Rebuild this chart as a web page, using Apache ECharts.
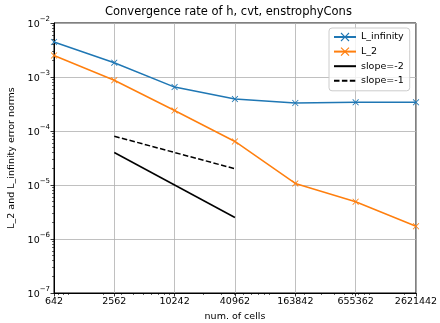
<!DOCTYPE html>
<html>
<head>
<meta charset="utf-8">
<script src="https://cdn.jsdelivr.net/npm/echarts@6/dist/echarts.min.js"></script>
<style>html,body{margin:0;padding:0;background:#fff}#c{width:440px;height:323px}</style>
</head>
<body>
<div id="c"></div>
<script>
// ---- data ----
var cells = [642, 2562, 10242, 40962, 163842, 655362, 2621442];
var lInfinity = [4.45e-3, 1.84e-3, 6.5e-4, 3.9e-4, 3.3e-4, 3.4e-4, 3.4e-4];
var l2 = [2.5e-3, 8.7e-4, 2.4e-4, 6.4e-5, 1.07e-5, 4.9e-6, 1.72e-6];
var slopeCells = [2562, 40962];
var slopeMinus2 = [4.0e-5, 2.5e-6];
var slopeMinus1 = [8.0e-5, 2.0e-5];
var yMajorTicks = [1e-7, 1e-6, 1e-5, 1e-4, 1e-3, 1e-2];

var xMin = cells[0], xMax = cells[cells.length - 1];
var yMin = yMajorTicks[0], yMax = yMajorTicks[yMajorTicks.length - 1];

function minorTicks(lo, hi) {
  var out = [];
  for (var e = Math.floor(Math.log10(lo)); e <= Math.ceil(Math.log10(hi)); e++) {
    for (var m = 2; m <= 9; m++) {
      var v = m * Math.pow(10, e);
      if (v >= lo && v <= hi) out.push(v);
    }
  }
  return out;
}
function pairs(xs, ys) { return xs.map(function (x, i) { return [x, ys[i]]; }); }

var X_PATH = 'path://M0,0.9L0.9,0L5,4.1L9.1,0L10,0.9L5.9,5L10,9.1L9.1,10L5,5.9L0.9,10L0,9.1L4.1,5Z';
var FONT = 'DejaVu Sans';
var HIDDEN_SYMBOL = {color: 'rgba(0,0,0,0)', borderWidth: 0, opacity: 0};

var chart = echarts.init(document.getElementById('c'), null, {renderer: 'canvas'});
chart.setOption({
  animation: false,
  backgroundColor: '#fff',
  textStyle: {fontFamily: FONT},
  title: {
    text: 'Convergence rate of h, cvt, enstrophyCons',
    left: 105, top: 6, padding: 0,
    textStyle: {fontFamily: FONT, fontSize: 11.5, fontWeight: 'normal', color: '#000'}
  },
  grid: {left: 54, right: 24, top: 23, bottom: 30, show: true, borderColor: '#000', borderWidth: 1, outerBoundsMode: 'none'},
  legend: {
    orient: 'vertical', left: 329, top: 28,
    padding: [4, 6, 5, 4], itemGap: 4.6, itemWidth: 22, itemHeight: 11,
    backgroundColor: 'rgba(255,255,255,0.8)', borderColor: '#cccccc', borderWidth: 1, borderRadius: 3,
    textStyle: {fontFamily: FONT, fontSize: 9.5, color: '#000'},
    data: [
      {name: 'L_infinity'},
      {name: 'L_2'},
      {name: 'slope=-2', itemStyle: HIDDEN_SYMBOL},
      {name: 'slope=-1', itemStyle: HIDDEN_SYMBOL}
    ]
  },
  xAxis: [{
    type: 'log', logBase: 10, min: xMin, max: xMax,
    name: 'num. of cells', nameLocation: 'middle', nameGap: 17,
    nameTextStyle: {fontFamily: FONT, fontSize: 9.5, color: '#000'},
    axisLine: {show: true, lineStyle: {color: '#000', width: 1}},
    axisTick: {show: true, length: 3.5, lineStyle: {color: '#000', width: 0.8}, customValues: cells},
    axisLabel: {show: true, customValues: cells, margin: 4, color: '#000', fontFamily: FONT, fontSize: 9.5,
      formatter: function (v) { return String(Math.round(v)); }},
    splitLine: {show: true, lineStyle: {color: '#b0b0b0', width: 0.8}}
  }, {
    type: 'log', logBase: 10, min: xMin, max: xMax, position: 'bottom',
    axisLine: {show: false},
    axisTick: {show: true, length: 2, lineStyle: {color: '#000', width: 0.6}, customValues: minorTicks(xMin, xMax)},
    axisLabel: {show: false},
    splitLine: {show: false}
  }],
  yAxis: [{
    type: 'log', logBase: 10, min: yMin, max: yMax,
    name: 'L_2 and L_infinity error norms', nameLocation: 'middle', nameGap: 36,
    nameTextStyle: {fontFamily: FONT, fontSize: 9.5, color: '#000'},
    axisLine: {show: true, lineStyle: {color: '#000', width: 1}},
    axisTick: {show: true, length: 3.5, lineStyle: {color: '#000', width: 0.8}, customValues: yMajorTicks},
    axisLabel: {show: true, customValues: yMajorTicks, margin: 4, color: '#000',
      formatter: function (v) {
        var e = Math.round(Math.log10(v));
        return '{b|10}{s|' + String(e).replace('-', '\u2212') + '}';
      },
      rich: {
        b: {fontFamily: FONT, fontSize: 9.5, color: '#000', lineHeight: 14, verticalAlign: 'bottom'},
        s: {fontFamily: FONT, fontSize: 7, color: '#000', lineHeight: 14, verticalAlign: 'top', padding: [0, 0, 5, 0]}
      }},
    splitLine: {show: true, lineStyle: {color: '#b0b0b0', width: 0.8}}
  }, {
    type: 'log', logBase: 10, min: yMin, max: yMax, position: 'left',
    axisLine: {show: false},
    axisTick: {show: true, length: 2, lineStyle: {color: '#000', width: 0.6}, customValues: minorTicks(yMin, yMax)},
    axisLabel: {show: false},
    splitLine: {show: false}
  }],
  series: [{
    name: 'L_infinity', type: 'line', data: pairs(cells, lInfinity),
    symbol: X_PATH, symbolSize: 6.5, showSymbol: true,
    itemStyle: {color: '#1f77b4', borderWidth: 0},
    lineStyle: {color: '#1f77b4', width: 1.5}
  }, {
    name: 'L_2', type: 'line', data: pairs(cells, l2),
    symbol: X_PATH, symbolSize: 6.5, showSymbol: true,
    itemStyle: {color: '#ff7f0e', borderWidth: 0},
    lineStyle: {color: '#ff7f0e', width: 1.5}
  }, {
    name: 'slope=-2', type: 'line', data: pairs(slopeCells, slopeMinus2),
    symbol: 'none', itemStyle: {color: '#000'},
    lineStyle: {color: '#000', width: 1.5}
  }, {
    name: 'slope=-1', type: 'line', data: pairs(slopeCells, slopeMinus1),
    symbol: 'none', itemStyle: {color: '#000'},
    lineStyle: {color: '#000', width: 1.5, type: [5.5, 2.4]}
  }]
});
</script>
</body>
</html>
